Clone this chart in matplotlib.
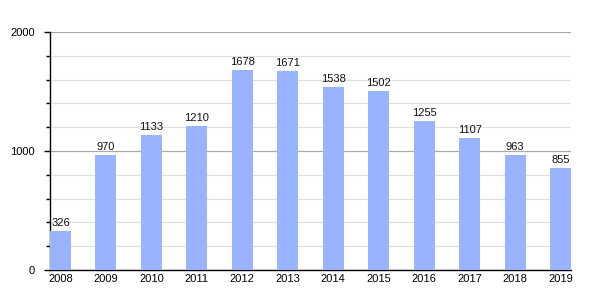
import matplotlib
matplotlib.use('Agg')
import matplotlib.pyplot as plt
from matplotlib.ticker import MultipleLocator

years = ['2008', '2009', '2010', '2011', '2012', '2013', '2014', '2015',
         '2016', '2017', '2018', '2019']
values = [326, 970, 1133, 1210, 1678, 1671, 1538, 1502, 1255, 1107, 963, 855]

plt.rcParams['font.family'] = ['Liberation Sans', 'DejaVu Sans']

fig = plt.figure(figsize=(6, 3), dpi=100)
ax = fig.add_axes([50 / 600, 30 / 300, 521 / 600, 238 / 300])

w = 0.46
x = list(range(len(years)))
ax.bar(x, values, width=w, color='#99b3ff', zorder=3)
for xi, v in zip(x, values):
    ax.text(xi, v + 25, str(v), ha='center', va='bottom', fontsize=8, color='#111111', zorder=4)

ax.set_xlim(-w / 2, len(years) - 1 + w / 2)
ax.set_ylim(0, 2000)
ax.set_xticks(x)
ax.set_xticklabels(years)
ax.yaxis.set_major_locator(MultipleLocator(1000))
ax.yaxis.set_minor_locator(MultipleLocator(200))
ax.grid(axis='y', which='major', color='#aaaaaa', linewidth=0.9, zorder=0)
ax.grid(axis='y', which='minor', color='#e0e0e0', linewidth=0.9, zorder=0)
ax.tick_params(axis='y', which='major', length=4, width=1, labelsize=8, pad=7)
ax.tick_params(axis='y', which='minor', length=3, width=1)
ax.tick_params(axis='x', length=0, labelsize=8, pad=3)
for s in ['top', 'right']:
    ax.spines[s].set_visible(False)
ax.spines['left'].set_linewidth(1)
ax.spines['bottom'].set_linewidth(1)

fig.savefig('out.png', dpi=100, facecolor='white')
